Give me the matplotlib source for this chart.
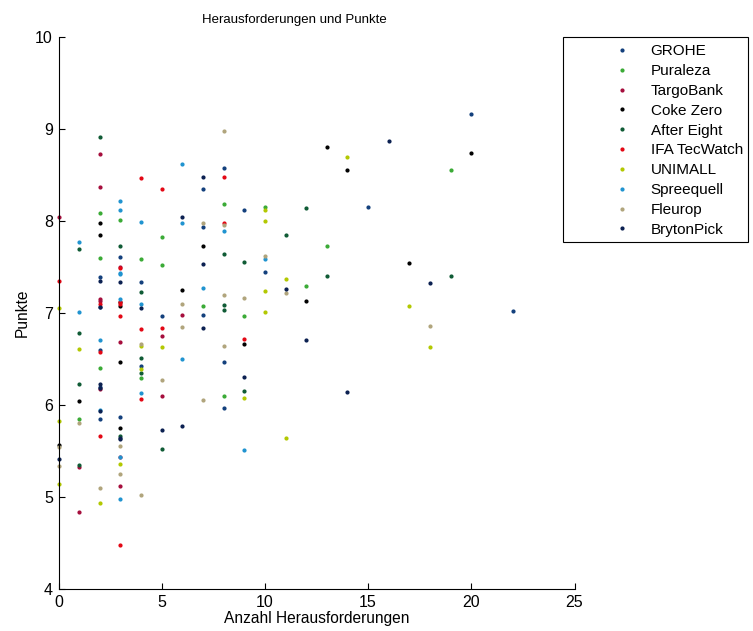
import matplotlib.pyplot as plt
from matplotlib.patches import Rectangle

# -----------------------------------------------------
# Data
# -----------------------------------------------------
series = ["GROHE", "Puraleza", "TargoBank", "Coke Zero", "After Eight",
          "IFA TecWatch", "UNIMALL", "Spreequell", "Fleurop", "BrytonPick"]
colors = ["#123f7c", "#3aaa35", "#a50d3c", "#000000", "#0e5a34",
          "#e30613", "#b2c800", "#1f93d0", "#b0a47c", "#0a1f50"]

grohe_x = [2, 2, 3, 4, 5, 2, 2, 2, 3, 4, 8, 7, 9, 7, 10, 7, 8, 8, 20, 15, 22]
grohe_y = [7.39, 7.06, 7.61, 7.33, 6.96, 6.59, 6.19, 5.85, 5.87, 6.42, 8.57, 8.35,
           8.12, 7.93, 7.44, 6.97, 6.46, 5.96, 9.16, 8.15, 7.02]

puraleza_x = [2, 2, 3, 4, 5, 5, 1, 2, 4, 8, 10, 7, 9, 8, 13, 12, 19]
puraleza_y = [8.08, 7.60, 8.01, 7.58, 7.82, 7.52, 5.85, 6.40, 6.29, 8.18, 8.15,
              7.07, 6.96, 6.10, 7.73, 7.29, 8.55]

targo_x = [0, 2, 2, 2, 2, 3, 2, 1, 1, 3, 3, 3, 5, 5, 6]
targo_y = [8.04, 8.72, 8.37, 7.15, 7.13, 7.50, 6.17, 5.32, 4.83, 6.68, 5.43,
           5.12, 6.75, 6.09, 6.98]

coke_x = [2, 2, 3, 3, 0, 1, 3, 3, 7, 6, 9, 13, 20, 14, 17, 12]
coke_y = [7.98, 7.85, 7.12, 7.07, 5.56, 6.04, 6.46, 5.75, 7.73, 7.25, 6.66,
          8.80, 8.74, 8.55, 7.54, 7.13]

eight_x = [1, 2, 3, 4, 1, 1, 1, 3, 4, 4, 5, 11, 8, 9, 8, 8, 9, 12, 13, 19]
eight_y = [7.69, 8.91, 7.73, 7.22, 6.78, 6.22, 5.35, 5.66, 6.51, 6.34, 5.52,
           7.84, 7.64, 7.55, 7.08, 7.03, 6.15, 8.14, 7.40, 7.40]

ifa_x = [0, 2, 3, 3, 3, 3, 4, 4, 2, 2, 3, 4, 5, 5, 8, 8, 9]
ifa_y = [7.34, 7.10, 7.49, 7.12, 7.10, 6.96, 8.46, 6.82, 6.57, 5.66, 4.48,
         6.06, 8.35, 6.83, 8.48, 7.97, 6.71]

unimall_x = [0, 0, 0, 1, 2, 3, 4, 4, 5, 10, 10, 11, 10, 10, 9, 11, 14, 17, 18]
unimall_y = [7.05, 5.82, 5.14, 6.61, 4.93, 5.36, 6.64, 6.39, 6.63, 8.12, 8.00,
             7.37, 7.24, 7.01, 6.07, 5.64, 8.69, 7.07, 6.63]

spree_x = [1, 1, 3, 3, 3, 3, 3, 4, 4, 2, 2, 3, 3, 4, 6, 6, 8, 10, 7, 6, 9]
spree_y = [7.77, 7.01, 8.21, 8.12, 7.43, 7.42, 7.15, 7.99, 7.09, 6.70, 5.94,
           5.43, 4.98, 6.13, 8.62, 7.97, 7.89, 7.58, 7.27, 6.50, 5.51]

fleurop_x = [0, 0, 1, 2, 3, 3, 4, 4, 5, 8, 7, 8, 10, 11, 8, 9, 6, 6, 8, 7, 18]
fleurop_y = [5.54, 5.33, 5.80, 5.10, 5.55, 5.25, 6.66, 5.02, 6.27, 8.97, 7.97,
             7.95, 7.62, 7.21, 7.19, 7.16, 7.10, 6.85, 6.64, 6.05, 6.86]

bryton_x = [2, 2, 3, 4, 0, 2, 2, 2, 3, 5, 7, 6, 7, 11, 7, 9, 6, 16, 18, 12, 14, 3]
bryton_y = [7.35, 7.06, 7.33, 7.05, 5.41, 6.23, 6.18, 5.93, 5.64, 5.73, 8.47,
            8.04, 7.53, 7.26, 6.83, 6.30, 5.77, 8.87, 7.32, 6.70, 6.14, 5.63]

xs = [grohe_x, puraleza_x, targo_x, coke_x, eight_x,
      ifa_x, unimall_x, spree_x, fleurop_x, bryton_x]
ys = [grohe_y, puraleza_y, targo_y, coke_y, eight_y,
      ifa_y, unimall_y, spree_y, fleurop_y, bryton_y]

# -----------------------------------------------------
# Plot
# -----------------------------------------------------
plt.rcParams['font.family'] = ['Liberation Sans', 'DejaVu Sans']

fig = plt.figure(figsize=(7.53, 6.31), dpi=100)
ax = fig.add_axes([58.5 / 753, 1 - 588.7 / 631, 516 / 753, 552 / 631])

for name, c, x, y in zip(series, colors, xs, ys):
    ax.plot(x, y, linestyle="none", marker=".", markersize=4, color=c,
            label=name, clip_on=False)

ax.set_xlim(0, 25)
ax.set_ylim(4, 10)
ax.set_xticks([0, 5, 10, 15, 20, 25])
ax.set_yticks([4, 5, 6, 7, 8, 9, 10])
ax.tick_params(direction="in", length=4, labelsize=11.5)
ax.tick_params(axis="x", pad=4.5)
ax.tick_params(axis="y", pad=4)
ax.spines["top"].set_visible(False)
ax.spines["right"].set_visible(False)

ax.set_title("Herausforderungen und Punkte", fontsize=9.5, x=0.458, pad=10)
ax.set_xlabel("Anzahl Herausforderungen", fontsize=11.2, labelpad=1)
ax.set_ylabel("Punkte", fontsize=11.2, labelpad=4)

# legend: text and markers without frame, box drawn separately
leg = fig.legend(loc="upper left", bbox_to_anchor=(0.793, 0.949), fontsize=11,
                 frameon=False, handlelength=1.6, handletextpad=1.1,
                 borderpad=0.3, labelspacing=0.38)
fig.patches.append(Rectangle((563 / 753, 1 - 242 / 631), 185 / 753, 205 / 631,
                             transform=fig.transFigure, fill=False,
                             edgecolor="black", linewidth=0.8))

fig.savefig("out.png", dpi=100)
